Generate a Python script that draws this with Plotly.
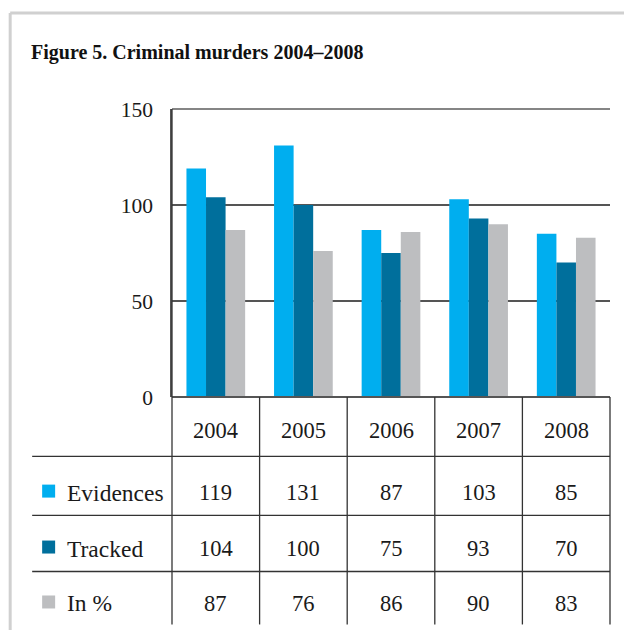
import plotly.graph_objects as go

# Data
years = ["2004", "2005", "2006", "2007", "2008"]
series_names = ["Evidences", "Tracked", "In %"]
evidences = [119, 131, 87, 103, 85]
tracked = [104, 100, 75, 93, 70]
in_percent = [87, 76, 86, 90, 83]
series_values = [evidences, tracked, in_percent]
series_colors = ["#00AEEF", "#006F9C", "#BDBEC0"]
y_ticks = [0, 50, 100, 150]

W, H = 624, 630
L, R, T, B = 172, 610.5, 109, 397.3  # plot area in pixels

SERIF = "Liberation Serif"
TEXT = "#1a1a1a"


def px_x(px):
    return (px - L) / (R - L)


def px_y(py):
    return (B - py) / (B - T)


fig = go.Figure()
for name, vals, col in zip(series_names, series_values, series_colors):
    fig.add_trace(go.Bar(x=years, y=vals, name=name,
                         marker=dict(color=col, line=dict(width=0)),
                         showlegend=False))

shapes = []
annotations = []

# outer frame
frame = dict(color="#D0D0D0", width=3)
shapes.append(dict(type="line", xref="paper", yref="paper",
                   x0=px_x(10), x1=px_x(660), y0=px_y(13), y1=px_y(13), line=frame))
shapes.append(dict(type="line", xref="paper", yref="paper",
                   x0=px_x(10), x1=px_x(10), y0=px_y(13), y1=px_y(660), line=frame))

# top line of the plot and baseline
shapes.append(dict(type="line", xref="paper", yref="paper",
                   x0=0, x1=1, y0=1, y1=1, line=dict(color="#858585", width=2)))
shapes.append(dict(type="line", xref="paper", yref="paper",
                   x0=0, x1=1, y0=0, y1=0, line=dict(color="#555555", width=2)))

# table: column boundaries
n = len(years)
for i in range(n + 1):
    shapes.append(dict(type="line", xref="paper", yref="paper",
                       x0=i / n, x1=i / n, y0=1 if i == 0 else 0, y1=px_y(625),
                       line=dict(color="#333333", width=1.3)))

# table: row separators
for py in [456.7, 515.7, 572]:
    shapes.append(dict(type="line", xref="paper", yref="paper",
                       x0=px_x(32), x1=1, y0=px_y(py), y1=px_y(py),
                       line=dict(color="#333333", width=1.3)))

# year header row
for i, yr in enumerate(years):
    annotations.append(dict(xref="paper", yref="paper", x=(i + 0.5) / n, y=px_y(431),
                            text=yr, showarrow=False, xanchor="center", yanchor="middle",
                            font=dict(family=SERIF, size=22.5, color=TEXT)))

# series rows with colour keys
row_y = [493, 549, 604]
for name, vals, col, ry in zip(series_names, series_values, series_colors, row_y):
    shapes.append(dict(type="rect", xref="paper", yref="paper",
                       x0=px_x(42), x1=px_x(55), y0=px_y(ry - 8), y1=px_y(ry + 5),
                       fillcolor=col, line=dict(width=0)))
    annotations.append(dict(xref="paper", yref="paper", x=px_x(65), y=px_y(ry),
                            text=name, showarrow=False, xanchor="left", yanchor="middle",
                            font=dict(family=SERIF, size=23.5, color=TEXT)))
    for i, v in enumerate(vals):
        annotations.append(dict(xref="paper", yref="paper", x=(i + 0.5) / n, y=px_y(ry),
                                text=str(v), showarrow=False, xanchor="center",
                                yanchor="middle",
                                font=dict(family=SERIF, size=22.5, color=TEXT)))

fig.update_layout(
    width=W, height=H,
    margin=dict(l=L, r=W - R, t=T, b=H - B, pad=0),
    paper_bgcolor="white", plot_bgcolor="white",
    barmode="group", bargap=0.33, bargroupgap=0,
    title=dict(text="<b>Figure 5. Criminal murders 2004\u20132008</b>",
               xref="container", yref="container", x=31 / W, xanchor="left",
               y=1 - 52 / H, yanchor="middle",
               font=dict(family=SERIF, size=20, color="#111111")),
    xaxis=dict(range=[-0.5, 4.5], showticklabels=False, showgrid=False,
               zeroline=False, showline=False, ticks=""),
    yaxis=dict(range=[0, 150], tickvals=y_ticks, showgrid=True,
               gridcolor="#555555", gridwidth=1.5, zeroline=False,
               showline=True, linecolor="#555555", linewidth=1.5, ticks="",
               ticklabelstandoff=13,
               tickfont=dict(family=SERIF, size=21.5, color=TEXT)),
    shapes=shapes, annotations=annotations,
    showlegend=False,
)

fig.write_html("out.html")
